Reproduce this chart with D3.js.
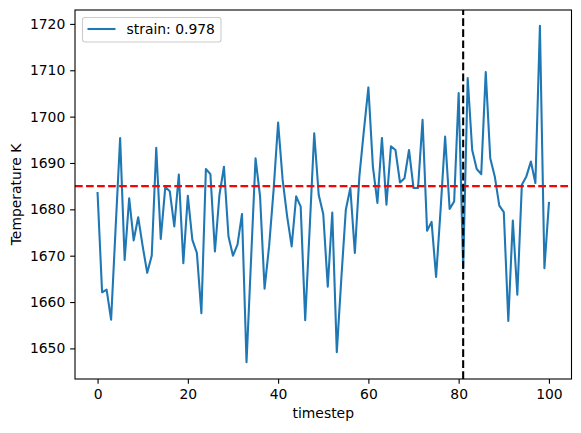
<!DOCTYPE html>
<html><head><meta charset="utf-8">
<script src="https://cdn.jsdelivr.net/npm/d3@7"></script>
<style>body{margin:0;background:#fff;} svg{display:block;} text{font-family:"DejaVu Sans",sans-serif;}</style>
</head><body><svg id="c" width="581" height="433"></svg>
<script>
const temperature = [1683.5,1662.1,1662.7,1656.2,1676,1695.4,1669.1,1682.4,1673.3,1678.3,
1672.0,1666.3,1670.0,1693.3,1673.6,1684.8,1683.9,1676.3,1687.5,1668.4,
1682.9,1673.4,1670.6,1657.6,1688.7,1687.6,1670.9,1683.1,1689.2,1674.2,
1670.0,1672.4,1679.0,1647.0,1669,1691.0,1682.8,1662.9,1672.0,1684.2,
1698.7,1686.4,1678.5,1672.0,1682.8,1680.6,1656.1,1676,1696.4,1683.1,
1679.0,1663.3,1679.3,1649.2,1665,1679.9,1684.6,1670.6,1687.1,1697,
1706.3,1689.2,1681.4,1695.4,1681.0,1693.6,1692.8,1685.8,1686.7,1692.8,
1684.6,1684.6,1699.3,1675.4,1677.3,1665.4,1680,1695.7,1680.1,1681.7,
1705.1,1667.3,1708.3,1692.8,1688.7,1687.6,1709.6,1691.0,1687.1,1680.8,
1679.4,1655.9,1677.6,1661.6,1685.3,1687.1,1690.3,1685.7,1719.6,1667.3,1681.4];
const timesteps = temperature.map((d,i)=>i);
const xTicks = [0,20,40,60,80,100];
const yTicks = [1650,1660,1670,1680,1690,1700,1710,1720];
const refTemp = 1685;
const markStep = 81;
const legendLabel = "strain: 0.978";
const xLabel = "timestep";
const yLabel = "Temperature K";

const svg = d3.select("#c");
const L=75, R=571.5, T=10, B=379;
const x = d3.scaleLinear().domain([-5,105]).range([L,R]);
const y = d3.scaleLinear().domain([1643.4,1723.0]).range([B,T]);

const g = svg.append("g");
// data line
g.append("path").datum(temperature)
 .attr("fill","none").attr("stroke","#1f77b4").attr("stroke-width",2.08)
 .attr("stroke-linejoin","round").attr("stroke-linecap","square")
 .attr("d", d3.line().x((d,i)=>x(timesteps[i])).y(d=>y(d)));
// reference lines
g.append("line").attr("x1",L).attr("x2",R).attr("y1",y(refTemp)).attr("y2",y(refTemp))
 .attr("stroke","red").attr("stroke-width",2.08).attr("stroke-dasharray","7.7,3.33");
g.append("line").attr("x1",x(markStep)).attr("x2",x(markStep)).attr("y1",B).attr("y2",T)
 .attr("stroke","black").attr("stroke-width",2.08).attr("stroke-dasharray","7.7,3.33");

// axes
const xa = svg.append("g").attr("transform",`translate(0,${B})`)
 .call(d3.axisBottom(x).tickValues(xTicks).tickSize(4.86).tickPadding(4.86).tickFormat(d3.format("d")));
const ya = svg.append("g").attr("transform",`translate(${L},0)`)
 .call(d3.axisLeft(y).tickValues(yTicks).tickSize(4.86).tickPadding(4.86).tickFormat(d3.format("d")));
[xa,ya].forEach(a=>{a.select(".domain").remove();
 a.selectAll(".tick line").attr("stroke","#000").attr("stroke-width",1.1);
 a.selectAll(".tick text").attr("font-size","13.9px").attr("fill","#000").style("font-family","DejaVu Sans");});
// frame
svg.append("rect").attr("x",L).attr("y",T).attr("width",R-L).attr("height",B-T)
 .attr("fill","none").attr("stroke","#000").attr("stroke-width",1.1);

// labels
svg.append("text").attr("x",(L+R)/2).attr("y",418).attr("text-anchor","middle")
 .attr("font-size","13.9px").text(xLabel);
svg.append("text").attr("transform",`translate(21,${(T+B)/2}) rotate(-90)`).attr("text-anchor","middle")
 .attr("font-size","13.9px").text(yLabel);

// legend
const lg = svg.append("g");
lg.append("rect").attr("x",82.5).attr("y",17.5).attr("width",138.5).attr("height",24.5).attr("rx",2.5)
 .attr("fill","#fff").attr("fill-opacity",0.8).attr("stroke","#cccccc").attr("stroke-width",1.1);
lg.append("line").attr("x1",87.5).attr("x2",115.5).attr("y1",29).attr("y2",29)
 .attr("stroke","#1f77b4").attr("stroke-width",2.08);
lg.append("text").attr("x",126.5).attr("y",34).attr("font-size","13.9px").text(legendLabel);
</script></body></html>
